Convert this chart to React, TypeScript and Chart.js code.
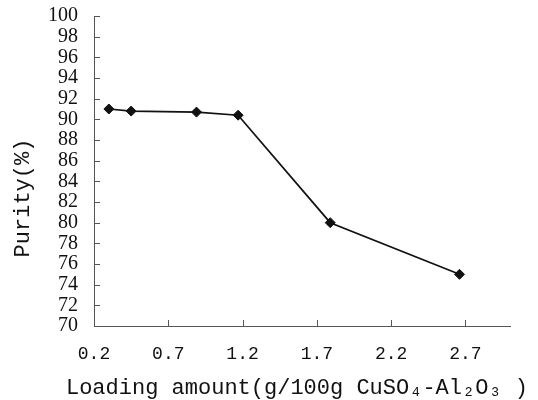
import React, { useEffect, useRef } from "react";
import { Chart, registerables } from "chart.js";

Chart.register(...registerables);

const loading = [0.3, 0.45, 0.89, 1.17, 1.79, 2.66];
const purity = [91.0, 90.8, 90.7, 90.4, 80.0, 75.0];
const xTicks = [0.2, 0.7, 1.2, 1.7, 2.2, 2.7];
const yTicks = [70, 72, 74, 76, 78, 80, 82, 84, 86, 88, 90, 92, 94, 96, 98, 100];
const xTitle = "Loading amount(g/100g CuSO₄-Al₂O₃ )";
const yTitle = "Purity(%)";

const monoFont = "'Liberation Mono', 'DejaVu Sans Mono', monospace";
const serifFont = "'Liberation Serif', 'DejaVu Serif', serif";

const inwardTicks = {
  id: "inwardTicks",
  afterDraw(chart: any) {
    const { ctx, chartArea, scales } = chart;
    ctx.save();
    ctx.strokeStyle = "#555";
    ctx.lineWidth = 1;
    const ys = scales.y;
    ys.ticks.forEach((t: any) => {
      const py = Math.round(ys.getPixelForValue(t.value)) + 0.5;
      ctx.beginPath();
      ctx.moveTo(chartArea.left, py);
      ctx.lineTo(chartArea.left + 6, py);
      ctx.stroke();
    });
    const xs = scales.x;
    xs.ticks.forEach((t: any) => {
      const px = Math.round(xs.getPixelForValue(t.value)) + 0.5;
      ctx.beginPath();
      ctx.moveTo(px, chartArea.bottom);
      ctx.lineTo(px, chartArea.bottom - 6);
      ctx.stroke();
    });
    ctx.fillStyle = "#111";
    ctx.textAlign = "center";
    ctx.textBaseline = "middle";
    // x axis title
    ctx.font = `22px ${monoFont}`;
    ctx.fillText(xTitle, (chartArea.left + chartArea.right) / 2 - 5, chartArea.bottom + 62);
    // y axis title
    ctx.translate(23, (chartArea.top + chartArea.bottom) / 2 + 27);
    ctx.rotate(-Math.PI / 2);
    ctx.font = `22px ${monoFont}`;
    ctx.fillText(yTitle, 0, 0);
    ctx.restore();
  },
};

export default function App() {
  const ref = useRef<HTMLCanvasElement>(null);
  useEffect(() => {
    if (!ref.current) return;
    const chart = new Chart(ref.current, {
      type: "line",
      data: {
        datasets: [
          {
            data: loading.map((x, i) => ({ x, y: purity[i] })),
            borderColor: "#111",
            borderWidth: 1.7,
            pointStyle: "rectRot",
            pointRadius: 5,
            pointBackgroundColor: "#111",
            pointBorderColor: "#111",
            pointBorderWidth: 1,
            tension: 0,
            fill: false,
          },
        ],
      },
      options: {
        animation: false,
        responsive: false,
        layout: { padding: { left: 0, right: 28, top: 0, bottom: 0 } },
        plugins: { legend: { display: false }, tooltip: { enabled: false } },
        scales: {
          x: {
            type: "linear",
            min: 0.2,
            max: 3.0,
            grid: { display: false, drawTicks: false },
            border: { display: true, color: "#555", width: 1 },
            afterBuildTicks: (s: any) => {
              s.ticks = xTicks.map((v) => ({ value: v }));
            },
            afterFit: (s: any) => {
              s.height = 74;
            },
            ticks: {
              padding: 17,
              color: "#111",
              font: { family: monoFont, size: 18 },
              maxRotation: 0,
              autoSkip: false,
              callback: (v: any) => Number(v).toFixed(1),
            },
          },
          y: {
            type: "linear",
            min: 70,
            max: 100,
            grid: { display: false, drawTicks: false },
            border: { display: true, color: "#555", width: 1 },
            afterBuildTicks: (s: any) => {
              s.ticks = yTicks.map((v) => ({ value: v }));
            },
            afterFit: (s: any) => {
              s.width = 94;
              s.paddingTop = 16;
            },
            ticks: {
              padding: 16,
              color: "#111",
              font: { family: serifFont, size: 20 },
              autoSkip: false,
            },
          },
        },
      },
      plugins: [inwardTicks],
    });
    return () => chart.destroy();
  }, []);
  return (
    <div style={{ position: "absolute", left: 0, top: 0, width: 538, height: 400, background: "#fff" }}>
      <canvas ref={ref} width={538} height={400} />
    </div>
  );
}
